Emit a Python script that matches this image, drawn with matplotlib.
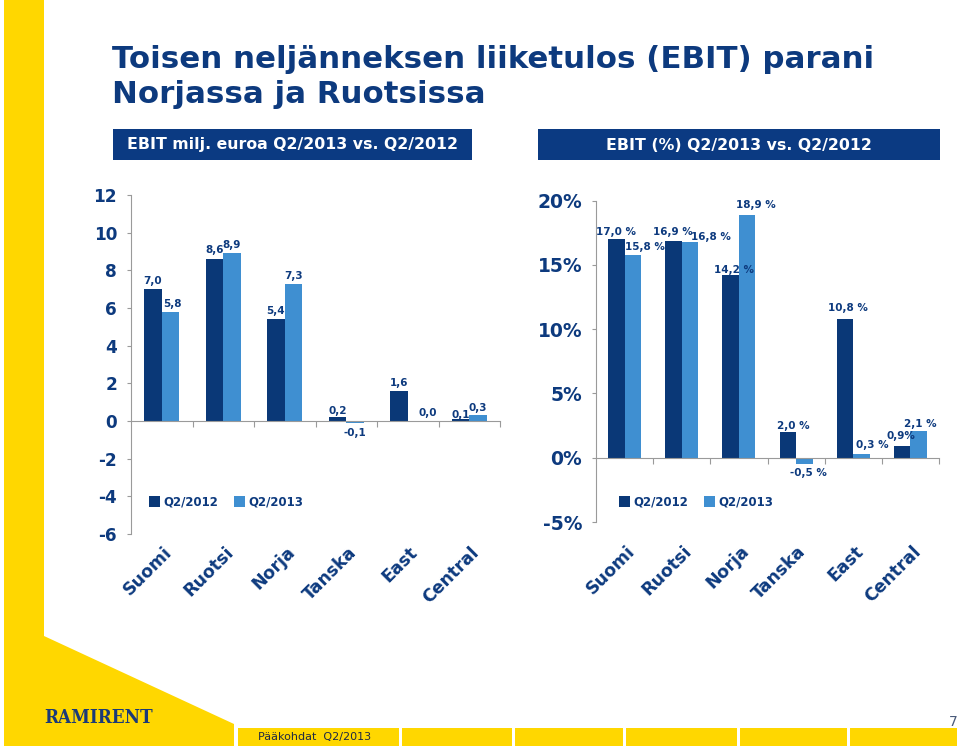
import matplotlib
matplotlib.use("Agg")
import matplotlib.pyplot as plt
import matplotlib.transforms as mtransforms
from matplotlib.patches import Rectangle, Polygon, Patch

# ---------------- data ----------------
categories = ["Suomi", "Ruotsi", "Norja", "Tanska", "East", "Central"]
series_names = ["Q2/2012", "Q2/2013"]
ebit_2012 = [7.0, 8.6, 5.4, 0.2, 1.6, 0.1]
ebit_2013 = [5.8, 8.9, 7.3, -0.1, 0.0, 0.3]
pct_2012 = [17.0, 16.9, 14.2, 2.0, 10.8, 0.9]
pct_2013 = [15.8, 16.8, 18.9, -0.5, 0.3, 2.1]
left_ticks = [-6, -4, -2, 0, 2, 4, 6, 8, 10, 12]
right_ticks = [-5, 0, 5, 10, 15, 20]

title_lines = ["Toisen neljänneksen liiketulos (EBIT) parani", "Norjassa ja Ruotsissa"]
header_left = "EBIT milj. euroa Q2/2013 vs. Q2/2012"
header_right = "EBIT (%) Q2/2013 vs. Q2/2012"
footer_text = "Pääkohdat  Q2/2013"
page_no = "7"
logo_text = "RAMIRENT"

# ---------------- style ----------------
NAVY = "#0d3a7e"
DARK = "#0a3877"
LIGHT = "#3f8fd1"
YELLOW = "#ffd700"
GRID = "#9a9a9a"

W, H = 960, 748
fig = plt.figure(figsize=(W / 100, H / 100), dpi=100)
fig.patch.set_facecolor("white")


def fx(px):
    return px / W


def fy(py):
    return 1 - py / H


# label offsets in pixels (dx, dy) - purely positional style
left_off_12 = [(0, 8), (0, 9), (0, 8), (0, 6), (0, 8), (0, 4)]
left_off_13 = [(2, 8), (0, 8), (0, 8), (0, -10), (11, 8), (0, 7)]
right_off_12 = [(0, 7), (-1, 9), (3, 5), (6, 6), (3, 11), (-1, 10)]
right_off_13 = [(12, 8), (21, 5), (9, 10), (4, -9), (11, 9), (2, 7)]

# ---------------- decorations ----------------
fig.patches.append(Polygon([(fx(4), fy(0)), (fx(44), fy(0)), (fx(44), fy(636)),
                            (fx(234), fy(724)), (fx(234), fy(746)), (fx(4), fy(746))],
                           closed=True, transform=fig.transFigure,
                           facecolor=YELLOW, edgecolor="none", zorder=0))
seg_edges = [238, 402, 515, 626, 740, 850, 960]
for a, b in zip(seg_edges[:-1], seg_edges[1:]):
    fig.patches.append(Rectangle((fx(a), fy(746)), fx(b - 3 - a), (746 - 728) / H,
                                 transform=fig.transFigure, facecolor=YELLOW,
                                 edgecolor="none", zorder=0))

fig.text(fx(44), fy(718), logo_text, fontsize=13.5, fontweight="heavy",
         family="DejaVu Serif", fontstretch="condensed", color="#1b3a78",
         ha="left", va="center")
fig.text(fx(258), fy(737), footer_text, fontsize=8, color="#1f2a44",
         ha="left", va="center")
fig.text(fx(958), fy(722), page_no, fontsize=10, color="#4a5a7a",
         ha="right", va="center")

# title
fig.text(fx(112), fy(68), title_lines[0], fontsize=22.2, fontweight="bold",
         color=NAVY, ha="left", va="baseline")
fig.text(fx(112), fy(103), title_lines[1], fontsize=22.2, fontweight="bold",
         color=NAVY, ha="left", va="baseline")

# header boxes
for (x0, x1, txt) in [(113, 472, header_left), (538, 940, header_right)]:
    fig.patches.append(Rectangle((fx(x0), fy(160)), fx(x1 - x0), 31 / H,
                                 transform=fig.transFigure, facecolor="#0b3a82",
                                 edgecolor="none", zorder=1))
    fig.text(fx((x0 + x1) / 2), fy(145), txt, fontsize=11.3, fontweight="bold",
             color="white", ha="center", va="center", zorder=2)


# ---------------- charts ----------------
def make_chart(rect, v12, v13, ylim, ticks, fmt, tick_fs, width, lab_fmt,
               off12, off13, legend_x, label_y_px):
    ax = fig.add_axes(rect)
    n = len(categories)
    xs = list(range(n))
    b1 = ax.bar([x - width / 2 for x in xs], v12, width, color=DARK, zorder=2)
    b2 = ax.bar([x + width / 2 for x in xs], v13, width, color=LIGHT, zorder=2)
    ax.set_xlim(-0.5, n - 0.5)
    ax.set_ylim(*ylim)
    ax.set_yticks(ticks)
    ax.set_yticklabels([fmt(t) for t in ticks])
    for s in ["top", "right"]:
        ax.spines[s].set_visible(False)
    ax.spines["left"].set_color(GRID)
    ax.spines["bottom"].set_color(GRID)
    ax.spines["bottom"].set_position(("data", 0))
    ax.set_xticks([x + 0.5 for x in xs])
    ax.set_xticklabels([])
    ax.tick_params(axis="x", direction="out", length=4, color=GRID)
    ax.tick_params(axis="y", direction="out", length=3, color=GRID, pad=7,
                   labelsize=tick_fs, labelcolor=NAVY)
    for lab in ax.get_yticklabels():
        lab.set_fontweight("bold")
    ax.patch.set_alpha(0)

    for bars, vals, offs in [(b1, v12, off12), (b2, v13, off13)]:
        for bar, v, (dx, dy) in zip(bars, vals, offs):
            x = bar.get_x() + bar.get_width() / 2
            ax.annotate(lab_fmt(v), (x, v), xytext=(dx * 0.72, dy * 0.72),
                        textcoords="offset points", ha="center", va="center",
                        fontsize=7.5, fontweight="bold", color=NAVY, zorder=3)

    trans = mtransforms.blended_transform_factory(ax.transData, fig.transFigure)
    trans = trans + mtransforms.ScaledTranslation(1 / 100, 0, fig.dpi_scale_trans)
    for x, c in zip(xs, categories):
        ax.text(x, fy(label_y_px), c, transform=trans, rotation=45,
                rotation_mode="anchor", ha="right", va="top", fontsize=12.5,
                fontweight="bold", color=NAVY)

    handles = [Patch(facecolor=DARK, label=series_names[0]),
               Patch(facecolor=LIGHT, label=series_names[1])]
    fig.legend(handles=handles, loc="center left",
               bbox_to_anchor=(fx(legend_x), fy(502)), ncol=2, frameon=False,
               prop={"size": 8.5, "weight": "bold"}, labelcolor=NAVY,
               handlelength=0.95, handleheight=0.95, handletextpad=0.3,
               columnspacing=1.3, borderpad=0, borderaxespad=0)
    return ax


def num(v):
    return ("%.1f" % v).replace(".", ",")


ax1 = make_chart([fx(131), fy(534), fx(500 - 131), (534 - 195) / H],
                 ebit_2012, ebit_2013, (-6, 12), left_ticks,
                 lambda t: "%d" % t, 12.2, 0.285, num,
                 left_off_12, left_off_13, 149, 543)

ax2 = make_chart([fx(596), fy(522), fx(939 - 596), (522 - 200.7) / H],
                 pct_2012, pct_2013, (-5, 20), right_ticks,
                 lambda t: "%d%%" % t, 13.5, 0.29,
                 lambda v: num(v) + (" %" if v != 0.9 else "%"),
                 right_off_12, right_off_13, 619, 542)

fig.savefig("out.png", dpi=100, facecolor="white")
